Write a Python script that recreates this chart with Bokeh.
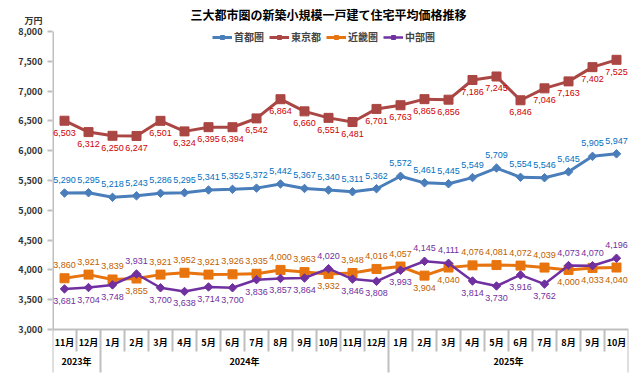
import math
from bokeh.plotting import figure
from bokeh.models import (Range1d, FixedTicker, LinearAxis, NumeralTickFormatter,
                          ColumnDataSource, Label, Legend, LegendItem)
from bokeh.core.properties import value
from bokeh.embed import file_html
from bokeh.resources import INLINE

months = ["11月", "12月", "1月", "2月", "3月", "4月", "5月", "6月", "7月", "8月", "9月", "10月",
          "11月", "12月", "1月", "2月", "3月", "4月", "5月", "6月", "7月", "8月", "9月", "10月"]
years = ["2023年", "2024年", "2025年"]
year_counts = [2, 12, 10]

shutoken = [5290, 5295, 5218, 5243, 5286, 5295, 5341, 5352, 5372, 5442, 5367, 5340,
            5311, 5362, 5572, 5461, 5445, 5549, 5709, 5554, 5546, 5645, 5905, 5947]
tokyo = [6503, 6312, 6250, 6247, 6501, 6324, 6395, 6394, 6542, 6864, 6660, 6551,
         6481, 6701, 6763, 6865, 6856, 7186, 7245, 6846, 7046, 7163, 7402, 7525]
kinki = [3860, 3921, 3839, 3855, 3921, 3952, 3921, 3926, 3935, 4000, 3963, 3932,
         3948, 4016, 4057, 3904, 4040, 4076, 4081, 4072, 4039, 4000, 4033, 4040]
chubu = [3681, 3704, 3748, 3931, 3700, 3638, 3714, 3700, 3836, 3857, 3864, 4020,
         3846, 3808, 3993, 4145, 4111, 3814, 3730, 3916, 3762, 4073, 4070, 4196]

series_names = ["首都圏", "東京都", "近畿圏", "中部圏"]
title_text = "三大都市圏の新築小規模一戸建て住宅平均価格推移"
unit_text = "万円"
y_min, y_max, y_step = 3000, 8000, 500

JP = "Noto Sans CJK JP"
NUM = "Liberation Sans"
GRAY = "#BFBFBF"

n = len(months)
xs = list(range(n))

# layout (pixels): plot area 576 x 298, head room 31 px and foot room 45 px inside the frame
FW = 576
PLOT_H, HEAD, FOOT = 298, 31, 45
FH = PLOT_H + HEAD + FOOT
per_px = (y_max - y_min) / PLOT_H
y_top = y_max + HEAD * per_px
y_bot = y_min - FOOT * per_px
unit_pos = y_max + 11 * per_px

p = figure(frame_width=FW, frame_height=FH, output_backend="svg", toolbar_location=None,
           x_range=Range1d(-0.5, n - 0.5), y_range=Range1d(y_bot, y_top),
           x_axis_type=None, y_axis_type=None,
           min_border_left=52, min_border_right=12, min_border_top=0, min_border_bottom=0)
p.outline_line_color = None
p.xgrid.visible = False
p.ygrid.visible = False
p.background_fill_color = "white"
p.border_fill_color = "white"

# y axis: value ticks as minor ticks (drawn), labels on major ticks, plus unit label
yticks = list(range(y_min, y_max + 1, y_step))
yax = LinearAxis(ticker=FixedTicker(ticks=yticks + [unit_pos], minor_ticks=yticks),
                 formatter=NumeralTickFormatter(format="0,0"))
yax.major_label_overrides = {unit_pos: unit_text}
yax.axis_line_color = None
yax.major_tick_line_color = None
yax.major_tick_out = 5
yax.major_tick_in = 0
yax.minor_tick_line_color = GRAY
yax.minor_tick_line_width = 2
yax.minor_tick_out = 5
yax.minor_tick_in = 0
yax.major_label_text_font = JP
yax.major_label_text_font_size = "9px"
yax.major_label_text_font_style = "bold"
yax.major_label_text_color = "#333333"
yax.major_label_standoff = 5
p.add_layout(yax, "left")

x0, x1 = p.x_range.start, p.x_range.end
# y axis line and category axis line
p.segment(x0=[x0, x0], y0=[y_min, y_min], x1=[x0, x1], y1=[y_max, y_min],
          line_color=GRAY, line_width=[3, 2])

# category separators: month boundaries short, year boundaries long
ybounds = [-0.5]
ycenters = []
start = 0
for c in year_counts:
    ycenters.append(start + (c - 1) / 2)
    start += c
    ybounds.append(start - 0.5)
bounds = [i - 0.5 for i in range(n + 1)]
sep_len = [(43 if b in ybounds else 22) * per_px for b in bounds]
p.segment(x0=bounds, y0=[y_min] * len(bounds), x1=bounds,
          y1=[y_min - L for L in sep_len], line_color=GRAY, line_width=2)

# month and year labels
p.text(x=xs, y=[y_min - 13 * per_px] * n, text=months, text_align="center",
       text_baseline="middle", text_font=value(JP), text_font_size="9px",
       text_font_style="bold", text_color="#000000")
p.text(x=ycenters, y=[y_min - 32 * per_px] * len(years), text=years, text_align="center",
       text_baseline="middle", text_font=value(JP), text_font_size="9px",
       text_font_style="bold", text_color="#000000")

# chart title
p.add_layout(Label(x=276, y=FH - 14, x_units="screen", y_units="screen", text=title_text,
                   text_font=JP, text_font_size="12px", text_font_style="bold",
                   text_align="center", text_baseline="middle", text_color="#000000"))

styles = [
    dict(data=shutoken, line="#4A7EBB", lab="#0070C0", size=6, angle=math.pi / 4, lw=3),
    dict(data=tokyo, line="#AA4643", lab="#D00000", size=9, angle=0, lw=3),
    dict(data=kinki, line="#E8740F", lab="#C06000", size=9, angle=0, lw=3),
    dict(data=chubu, line="#7030A0", lab="#7030A0", size=6, angle=math.pi / 4, lw=2.5),
]

# label side: 首都圏 above, 東京都 below, 近畿/中部 -> higher one above
sides = [
    [True] * n,
    [False] * n,
    [k >= c for k, c in zip(kinki, chubu)],
    [c > k for k, c in zip(kinki, chubu)],
]

items = []
for name, st, side in zip(series_names, styles, sides):
    src = ColumnDataSource(dict(x=xs, y=st["data"],
                                t=[f"{v:,}" for v in st["data"]],
                                off=[-13 if s else 12 for s in side]))
    r1 = p.line("x", "y", source=src, line_color=st["line"], line_width=st["lw"])
    r2 = p.scatter("x", "y", source=src, marker="square", size=st["size"], angle=st["angle"],
                   fill_color=st["line"], line_color=st["line"])
    p.text("x", "y", text="t", source=src, y_offset="off", text_align="center",
           text_baseline="middle", text_font=value(NUM), text_font_size="9px",
           text_color=st["lab"])
    items.append(LegendItem(label=name, renderers=[r1, r2]))

legend = Legend(items=items, orientation="horizontal", location=(160, FH - 44),
                background_fill_alpha=0, border_line_color=None,
                label_text_font=JP, label_text_font_size="10px", label_text_font_style="bold",
                glyph_width=20, glyph_height=10, label_standoff=2, spacing=5,
                padding=0, margin=0, label_height=10)
p.add_layout(legend, "center")

open("out.html", "w").write(file_html(p, INLINE))
